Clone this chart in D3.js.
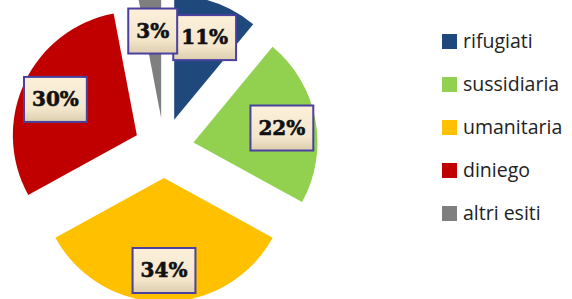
<!DOCTYPE html>
<html>
<head>
<meta charset="utf-8">
<script src="https://cdn.jsdelivr.net/npm/d3@7"></script>
<style>
  body { margin: 0; background: #fff; }
  svg { display: block; }
</style>
</head>
<body>
<div id="chart"></div>
<script>
// categories and values (percent)
const categories = ["rifugiati", "sussidiaria", "umanitaria", "diniego", "altri esiti"];
const values = [11, 22, 34, 30, 3];
const labels = ["11%", "22%", "34%", "30%", "3%"];
const colors = ["#1f497d", "#92d050", "#ffc000", "#c00000", "#7f7f7f"];

const width = 572;
const height = 299;

const cx = 164, cy = 148;
const radius = 124;
const explode = 30;
const labelDist = 90;

const svg = d3.select("#chart").append("svg")
  .attr("width", width)
  .attr("height", height);

// label box gradient
const grad = svg.append("defs").append("linearGradient")
  .attr("id", "boxfill")
  .attr("x1", 0).attr("y1", 0).attr("x2", 0).attr("y2", 1);
grad.append("stop").attr("offset", "0%").attr("stop-color", "#fcf0da");
grad.append("stop").attr("offset", "70%").attr("stop-color", "#f3e6cb");
grad.append("stop").attr("offset", "100%").attr("stop-color", "#dcceae");

const pie = d3.pie().sort(null).value((d) => d);
const arcs = pie(values);

const arc = d3.arc().innerRadius(0).outerRadius(radius);

const offset = (d, r) => {
  const a = (d.startAngle + d.endAngle) / 2;
  return [Math.sin(a) * r, -Math.cos(a) * r];
};

const g = svg.append("g").attr("transform", `translate(${cx},${cy})`);

g.selectAll("path")
  .data(arcs)
  .enter()
  .append("path")
  .attr("d", arc)
  .attr("fill", (d, i) => colors[i])
  .attr("transform", (d) => {
    const [x, y] = offset(d, explode);
    return `translate(${x},${y})`;
  });

// data labels
const lab = g.selectAll("g.label")
  .data(arcs)
  .enter()
  .append("g")
  .attr("class", "label")
  .attr("transform", (d) => {
    const [x, y] = offset(d, explode + labelDist);
    return `translate(${x},${y + 2})`;
  });

lab.append("text")
  .attr("text-anchor", "middle")
  .attr("dy", "0.36em")
  .attr("font-family", "DejaVu Serif")
  .attr("font-weight", "bold")
  .attr("font-size", 20)
  .attr("fill", "#111")
  .attr("stroke", "#111")
  .attr("stroke-width", 0.6)
  .text((d, i) => labels[i]);

lab.each(function () {
  const t = d3.select(this).select("text");
  const bb = t.node().getBBox();
  const padX = 8;
  d3.select(this).insert("rect", "text")
    .attr("x", bb.x - padX)
    .attr("y", -22)
    .attr("width", bb.width + padX * 2)
    .attr("height", 45)
    .attr("fill", "url(#boxfill)")
    .attr("stroke", "#4a40a0")
    .attr("stroke-width", 2);
});

// legend
const legend = svg.append("g").attr("transform", "translate(442,0)");
const rowY = d3.scalePoint().domain(categories).range([41, 213]);

const item = legend.selectAll("g")
  .data(categories)
  .enter()
  .append("g")
  .attr("transform", (d) => `translate(0,${rowY(d)})`);

item.append("rect")
  .attr("x", 0)
  .attr("y", -7)
  .attr("width", 15)
  .attr("height", 15)
  .attr("fill", (d, i) => colors[i]);

item.append("text")
  .attr("x", 21)
  .attr("dy", "0.35em")
  .attr("font-family", "Open Sans")
  .attr("font-size", 19.5)
  .attr("fill", "#222")
  .text((d) => d);
</script>
</body>
</html>
